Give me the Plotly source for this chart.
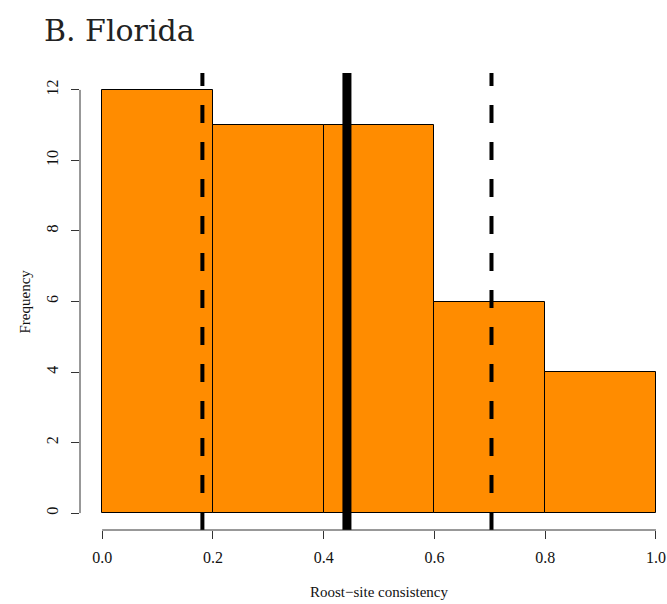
import plotly.graph_objects as go

# Histogram of roost-site consistency (bin edges and counts)
bin_left = [0.0, 0.2, 0.4, 0.6, 0.8]
bin_width = 0.2
counts = [12, 11, 11, 6, 4]

# Summary lines: mean (solid) and interval bounds (dashed)
mean_value = 0.442
lower_bound = 0.181
upper_bound = 0.703

x_ticks = [0.0, 0.2, 0.4, 0.6, 0.8, 1.0]
x_tick_labels = ["0.0", "0.2", "0.4", "0.6", "0.8", "1.0"]
y_ticks = [0, 2, 4, 6, 8, 10, 12]

SERIF = "Liberation Serif"
TITLE_FONT = "DejaVu Serif"

fig = go.Figure()
fig.add_trace(go.Bar(
    x=[b + bin_width / 2 for b in bin_left],
    y=counts,
    width=bin_width,
    marker=dict(color="#FF8C00", line=dict(color="black", width=1)),
    showlegend=False,
    hoverinfo="skip",
))

# vertical reference lines spanning the whole plotting region
for xv, w, dash in [(lower_bound, 4, "18px,19px"),
                    (upper_bound, 4, "18px,19px"),
                    (mean_value, 9, "solid")]:
    fig.add_shape(type="line", xref="x", yref="paper",
                  x0=xv, x1=xv, y0=0, y1=1,
                  line=dict(color="black", width=w, dash=dash),
                  layer="above")

# base-R style axis lines that only run between the first and last tick
fig.add_shape(type="line", xref="x", yref="paper",
              x0=x_ticks[0], x1=x_ticks[-1], y0=0, y1=0,
              line=dict(color="#333333", width=1))
fig.add_shape(type="line", xref="paper", yref="y",
              x0=0, x1=0, y0=y_ticks[0], y1=y_ticks[-1],
              line=dict(color="#333333", width=1))

# axis titles, centred on the full plotting region as in base R
fig.add_annotation(text="Roost\u2212site consistency", xref="x", yref="paper",
                   x=0.5, y=-0.1357, xanchor="center", yanchor="middle",
                   showarrow=False, font=dict(family=SERIF, size=15))
fig.add_annotation(text="Frequency", xref="paper", yref="paper",
                   x=-0.0937, y=0.5, xanchor="center", yanchor="middle",
                   textangle=-90, showarrow=False,
                   font=dict(family=SERIF, size=15))

fig.update_layout(
    width=667, height=604,
    margin=dict(l=80, r=0, t=73, b=74),
    paper_bgcolor="white", plot_bgcolor="white",
    bargap=0,
    font=dict(family=SERIF, color="#111111"),
    title=dict(text="B. Florida", xref="container", yref="container",
               x=44 / 667, xanchor="left", y=1 - 30 / 604, yanchor="middle",
               font=dict(family=TITLE_FONT, size=30, color="#222222")),
    xaxis=dict(range=[-0.04, 1.0199], showgrid=False, zeroline=False,
               showline=False, tickmode="array", tickvals=x_ticks,
               ticktext=x_tick_labels, ticks="outside", ticklen=8,
               tickcolor="#333333", tickfont=dict(size=16),
               ticklabelstandoff=5),
    yaxis=dict(range=[-0.48, 12.48], showgrid=False, zeroline=False,
               showline=False, tickmode="array", tickvals=y_ticks,
               ticks="outside", ticklen=8, tickcolor="#333333",
               tickangle=-90, tickfont=dict(size=16),
               ticklabelstandoff=7),
)

fig.write_html("out.html")
